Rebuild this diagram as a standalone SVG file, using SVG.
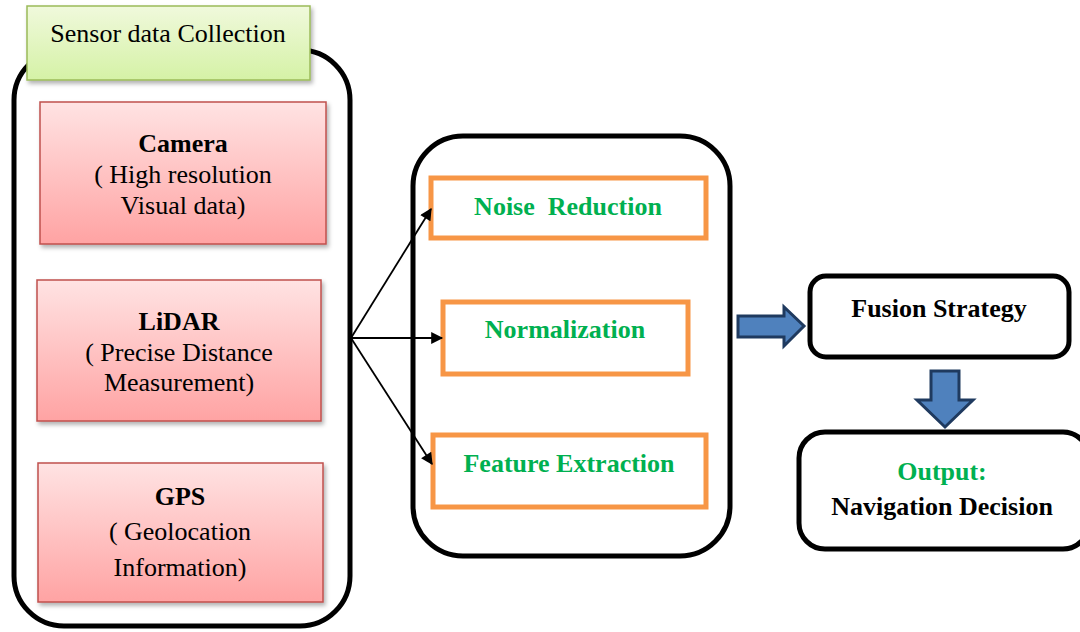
<svg xmlns="http://www.w3.org/2000/svg" width="1080" height="632" viewBox="0 0 1080 632">
  <defs>
    <linearGradient id="redFill" x1="0" y1="0" x2="0" y2="1">
      <stop offset="0" stop-color="#FFE3E3"/>
      <stop offset="1" stop-color="#FFA3A3"/>
    </linearGradient>
    <linearGradient id="greenFill" x1="0" y1="0" x2="0" y2="1">
      <stop offset="0" stop-color="#F0F9DC"/>
      <stop offset="1" stop-color="#D5F2A6"/>
    </linearGradient>
    <filter id="shadow" x="-10%" y="-10%" width="125%" height="130%">
      <feDropShadow dx="2" dy="3" stdDeviation="2" flood-color="#000" flood-opacity="0.3"/>
    </filter>
    <marker id="tipBig" viewBox="0 0 10 10" refX="9" refY="5" markerWidth="14" markerHeight="12" markerUnits="userSpaceOnUse" orient="auto">
      <path d="M0,0 L10,5 L0,10 Z" fill="#000"/>
    </marker>
  </defs>
  <style>
    .container { fill: #fff; stroke: #000; stroke-width: 5; }
    .sensor { fill: url(#redFill); stroke: #C0504D; stroke-width: 1.5; filter: url(#shadow); }
    .label { fill: url(#greenFill); stroke: #9BBB59; stroke-width: 1.5; filter: url(#shadow); }
    .step { fill: #fff; stroke: #F79646; stroke-width: 5; }
    .block { fill: #4F81BD; stroke: #1F3A5F; stroke-width: 3; stroke-linejoin: miter; }
    .link { fill: none; stroke: #000; stroke-width: 1.8; }
    text { font-family: "Liberation Serif", "Times New Roman", serif; text-anchor: middle; fill: #000; }
    .reg { font-size: 26px; }
    .b { font-size: 26px; font-weight: bold; }
    .g { font-size: 26px; font-weight: bold; fill: #00B050; }
  </style>

  <!-- Sensor data collection group -->
  <g id="sensor-collection">
    <rect class="container" x="14" y="50" width="336" height="576" rx="50" ry="50"/>
    <rect class="label" x="27" y="6" width="283" height="74"/>
    <text class="reg" x="168" y="42">Sensor data Collection</text>
  </g>

  <g id="camera">
    <rect class="sensor" x="40" y="102" width="286" height="142"/>
    <text class="b" x="183" y="152">Camera</text>
    <text class="reg" x="183" y="183">( High resolution</text>
    <text class="reg" x="183" y="214">Visual data)</text>
  </g>

  <g id="lidar">
    <rect class="sensor" x="37" y="280" width="284" height="141"/>
    <text class="b" x="179" y="330">LiDAR</text>
    <text class="reg" x="179" y="361">( Precise Distance</text>
    <text class="reg" x="179" y="391">Measurement)</text>
  </g>

  <g id="gps">
    <rect class="sensor" x="38" y="463" width="285" height="139"/>
    <text class="b" x="180" y="505">GPS</text>
    <text class="reg" x="180" y="540">( Geolocation</text>
    <text class="reg" x="180" y="576">Information)</text>
  </g>

  <!-- Preprocessing group -->
  <g id="preprocessing">
    <rect class="container" x="413" y="136" width="317" height="420" rx="50" ry="50"/>
  </g>

  <g id="noise-reduction">
    <rect class="step" x="431" y="178" width="275" height="60"/>
    <text class="g" x="568" y="215">Noise&#160; Reduction</text>
  </g>

  <g id="normalization">
    <rect class="step" x="443" y="302" width="245" height="72"/>
    <text class="g" x="565" y="338">Normalization</text>
  </g>

  <g id="feature-extraction">
    <rect class="step" x="433" y="435" width="273" height="72"/>
    <text class="g" x="569" y="472">Feature Extraction</text>
  </g>

  <g id="fusion-strategy">
    <rect class="container" x="810" y="276" width="259" height="81" rx="16" ry="16"/>
    <text class="b" x="939" y="317">Fusion Strategy</text>
  </g>

  <g id="output">
    <rect class="container" x="799" y="432" width="290" height="117" rx="26" ry="26"/>
    <text class="g" x="942" y="480">Output:</text>
    <text class="b" x="942" y="515">Navigation Decision</text>
  </g>

  <!-- Connectors -->
  <g id="connectors">
    <line class="link" x1="351" y1="338" x2="431" y2="209" marker-end="url(#tipBig)"/>
    <line class="link" x1="351" y1="338" x2="442" y2="338" marker-end="url(#tipBig)"/>
    <line class="link" x1="351" y1="338" x2="432" y2="464" marker-end="url(#tipBig)"/>
    <path class="block" d="M738,316 L784,316 L784,307 L804,326 L784,346 L784,337 L738,337 Z"/>
    <path class="block" d="M931,371 L959,371 L959,400 L973,400 L945,427 L917,400 L931,400 Z"/>
  </g>
</svg>
